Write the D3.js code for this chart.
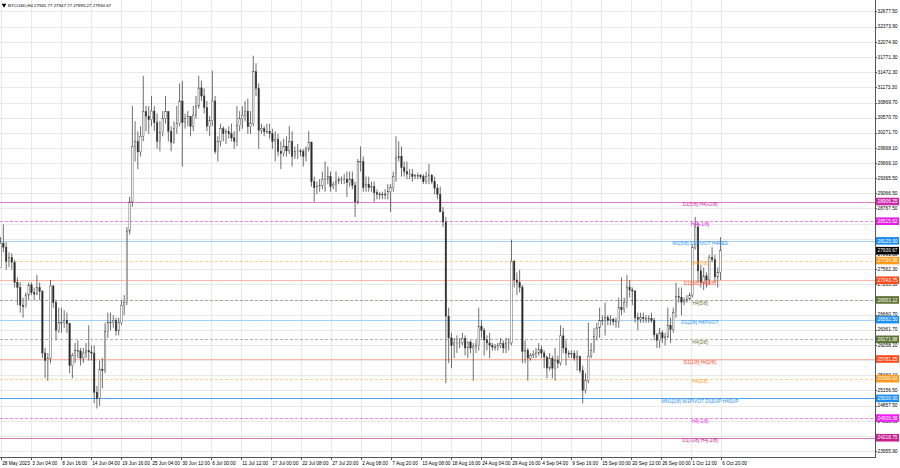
<!DOCTYPE html>
<html><head><meta charset="utf-8">
<script src="https://cdn.jsdelivr.net/npm/d3@7"></script>
<style>html,body{margin:0;padding:0;background:#fff;}svg{display:block;font-family:"Liberation Sans",Arial,sans-serif;}</style>
</head><body><svg id="c" width="900" height="468"></svg>
<script>
// ---------------- DATA ----------------
const headerText = "BTCUSD,H4  27941.77 27947.77 27893.27 27930.67";
const firstCandle = "2023-05-28T12:00:00";   // 12-hour candles from here
const candleHours = 12;
const firstOpen = 27600;
const highs = [28200,
28450,28100, 27900,27880, 27750,27400, 27300,27000, 27100,27300, 27300,27200, 27450,27300, 27150,26000, 25900,27350,
27250,26950, 26800,26800, 26750,26700, 26500,25900, 26100,26150, 26000,26000, 26100,26450, 26050,26050, 25250,25750,
25800,26500, 26700,26700, 26650,26600, 26600,26950, 27050,28400, 29000,30800, 30500,30300, 30400,31400, 30800,30800,
31000,30800, 30650,30500, 30700,31000, 30700,30400, 30500,30800, 31250,31300, 30650,30700, 30600,30800, 31000,31400,
31300,31150, 30900,30600, 31500,31000, 30200,30450, 30400,30350, 30400,30450, 30300,30800, 30700,30800, 30900,30950,
30700,31800, 31650,31250, 30450,30400, 30450,30450, 30350,30300, 30250,30100, 30150,30200, 30400,30300, 30000,30050,
29950,29950, 30000,30300, 30100,29400, 29300,29350, 29500,29700, 29600,29500, 29300,29500, 29400,29400, 29450,29500,
29500,29500, 29300,29750, 30000,29800, 29400,29400, 29300,29300, 29150,29100, 29100,29150, 29250,29250, 29500,30200,
30100,30000, 29700,29700, 29550,29550, 29450,29480, 29450,29450, 29500,29650, 29450,29400, 29250,29200, 28800,28600,
26800,26300, 26200,26250, 26200,26300, 26250,26100, 26150,26100, 26150,26800, 26550,26400, 26250,26300, 26100,26080,
26100,26200, 26150,26200, 26200,28150, 27750,27500, 27550,27250, 26150,26000, 25900,25950, 26000,26100, 26050,25950,
25850,25900, 25850,26000, 25850,26450, 26400,26150, 25950,25950, 25950,25950, 25850,25650, 25500,26500, 26100,26400,
26500,26800, 26650,26900, 26650,26650, 26600,26600, 27000,27400, 27000,27450, 27350,27200, 27150,26700, 26700,26700,
26650,26650, 26700,26600, 26300,26400, 26350,26300, 26800,26600, 26800,27300, 27200,27200, 27000,27050, 27100,28050,
28600,28500, 27650,27600, 27500,27850, 28000,27850, 27600,28200];
const lows = [27600,
27900,27550, 27600,27550, 27200,26850, 26700,26600, 26800,26950, 27050,26950, 27050,26950, 25800,25400, 25350,25700,
26800,26150, 26300,26300, 26400,26300, 25500,25400, 25700,25800, 25650,25700, 25800,25750, 25750,24900, 24800,24850,
25200,25500, 26200,26350, 26400,26250, 26250,26450, 26650,26850, 28250,28800, 29700,29550, 29800,30100, 30300,30250,
30400,30300, 29950,29900, 30200,30450, 30100,29900, 30050,30250, 30400,29600, 30350,30400, 30200,30300, 30550,30750,
30900,30650, 30300,30200, 30400,29850, 29700,30000, 30100,30050, 30150,30100, 29950,30000, 30300,30350, 30500,30250,
30250,30400, 31000,29950, 30250,30200, 30250,30150, 29950,29700, 29800,29550, 29800,29800, 29850,29600, 29750,29750,
29800,29600, 29700,29900, 29200,28900, 29050,29100, 29150,29100, 29250,29100, 29150,29100, 29250,29250, 29250,29000,
29200,29150, 28600,28850, 29500,29100, 29100,29100, 29100,28900, 28950,28950, 28950,28950, 28950,28700, 29100,29300,
29700,29400, 29400,29350, 29350,29300, 29350,29350, 29350,29250, 29250,29250, 29250,29050, 28950,28700, 28400,25300,
25700,25600, 25800,25900, 26000,26050, 25850,25800, 25900,25350, 25900,25950, 26200,25850, 25950,25800, 25950,25950,
25950,26000, 25900,25900, 25950,26050, 27200,27050, 27100,25700, 25700,25350, 25750,25800, 25800,25850, 25800,25600,
25400,25550, 25400,25350, 25600,25650, 25900,25650, 25800,25800, 25750,25550, 25500,24900, 25100,25300, 25800,25900,
26150,26200, 26450,26250, 26450,26450, 26450,26400, 26400,26650, 26700,26800, 27000,26850, 26500,26350, 26500,26500,
26500,26500, 26500,26150, 26000,26000, 26100,26050, 26200,26100, 26300,26600, 26900,26650, 26850,26900, 26950,27000,
27950,27300, 27200,27150, 27200,27250, 27700,27300, 27200,27350];
const closes = [28080,
28000,27720, 27800,27700, 27300,27200, 26850,26820, 27050,27250, 27100,27070, 27200,27120, 25900,25750, 25800,27230,
26900,26350, 26500,26500, 26550,26480, 25650,25850, 25950,25940, 25800,25900, 25950,25920, 25900,25120, 25000,25580,
25550,26330, 26500,26510, 26550,26340, 26500,26850, 26900,28320, 28900,30000, 30100,29890, 30200,30690, 30600,30530,
30700,30470, 30100,30270, 30550,30690, 30300,30080, 30350,30450, 30900,30470, 30550,30590, 30400,30620, 30800,31160,
31000,30770, 30400,30510, 30900,29900, 30100,30350, 30250,30290, 30250,30170, 30100,30410, 30550,30620, 30700,30390,
30450,31480, 31150,30320, 30350,30290, 30300,30250, 30100,30140, 29900,29860, 30000,29910, 30100,29800, 29900,29910,
29900,29800, 29950,30080, 29300,29180, 29200,29230, 29350,29350, 29400,29210, 29250,29310, 29350,29350, 29350,29280,
29350,29230, 28900,29700, 29700,29180, 29250,29180, 29200,29080, 29050,29040, 29050,29040, 29100,29180, 29400,29770,
29800,29580, 29500,29450, 29450,29400, 29420,29420, 29400,29300, 29400,29430, 29300,29170, 29050,28700, 28500,26630,
26200,26050, 26100,26100, 26100,26190, 26000,26120, 26000,26040, 26050,26430, 26350,26160, 26100,26050, 26020,26010,
26050,26090, 26000,26100, 26100,27720, 27350,27300, 27200,25930, 25950,25800, 25850,25870, 25900,25970, 25900,25820,
25600,25790, 25600,25750, 25700,26240, 26000,25900, 25880,25890, 25800,25830, 25550,25160, 25350,25840, 25950,26230,
26400,26540, 26550,26600, 26550,26570, 26520,26530, 26800,26760, 26900,27210, 27150,27130, 26600,26570, 26600,26580,
26580,26580, 26550,26260, 26150,26300, 26200,26220, 26450,26370, 26700,27020, 27000,26910, 26950,26970, 27050,27990,
28400,27530, 27300,27430, 27350,27800, 27750,27410, 27500,27931];

const timeLabels = ["28 May 2023","3 Jun 04:00","8 Jun 16:00","14 Jun 04:00","19 Jun 16:00","25 Jun 04:00","30 Jun 12:00",
"6 Jul 00:00","11 Jul 12:00","17 Jul 00:00","22 Jul 08:00","27 Jul 20:00","2 Aug 08:00","7 Aug 20:00","13 Aug 08:00",
"18 Aug 16:00","24 Aug 04:00","29 Aug 16:00","4 Sep 04:00","9 Sep 16:00","15 Sep 00:00","20 Sep 12:00","26 Sep 00:00",
"1 Oct 12:00","6 Oct 20:00"];
const timeLabelDates = ["2023-05-28T20:00","2023-06-03T04:00","2023-06-08T16:00","2023-06-14T04:00","2023-06-19T16:00",
"2023-06-25T04:00","2023-06-30T12:00","2023-07-06T00:00","2023-07-11T12:00","2023-07-17T00:00","2023-07-22T08:00",
"2023-07-27T20:00","2023-08-02T08:00","2023-08-07T20:00","2023-08-13T08:00","2023-08-18T16:00","2023-08-24T04:00",
"2023-08-29T16:00","2023-09-04T04:00","2023-09-09T16:00","2023-09-15T00:00","2023-09-20T12:00","2023-09-26T00:00",
"2023-10-01T12:00","2023-10-06T20:00"];

const priceTicks = [32677.50,32373.90,32074.90,31771.30,31472.30,31173.30,30869.70,30570.70,30271.70,29968.10,
29669.10,29365.50,29066.50,28767.50,28463.90,28164.90,27861.30,27562.30,27263.30,26959.70,26660.70,26361.70,
26058.10,25759.10,25460.10,25156.50,24857.50,24553.90,24254.90,23955.90];

const levelValues = [28906.25,28515.62,28125.00,27734.38,27343.75,26953.12,26562.50,26171.88,25781.25,25390.62,25000.00,24609.38,24218.75];
const levelLabels = ["D1[5/8] H4[+2/8]","H4[+1/8]","W1[5/8] D1PIVOT H4RES","H4[7/8]","D1[3/8] H4[6/8]","H4[5/8]",
"D1[2/8] H4PIVOT","H4[3/8]","D1[1/8] H4[2/8]","H4[1/8]","MN1[2/8] W1PIVOT D1SUP H4SUP","H4[-1/8]","D1[-1/8] H4[-2/8]"];
const currentPrice = 27930.67;

// ---------------- STYLE ----------------
const levelStyle = [
 {c:"#cc2aa8", dash:null, op:0.6},
 {c:"#e61ee6", dash:"3,2", op:0.55},
 {c:"#1e8ff0", dash:null, op:0.4},
 {c:"#ff9a1a", dash:"3,2", op:0.45},
 {c:"#ff4a1a", dash:null, op:0.4},
 {c:"#5e7434", dash:"3,2", op:0.5},
 {c:"#1e8ff0", dash:null, op:0.4},
 {c:"#5e7434", dash:"3,2", op:0.5},
 {c:"#ff4a1a", dash:null, op:0.4},
 {c:"#ff9a1a", dash:"3,2", op:0.45},
 {c:"#1e8ff0", dash:null, op:0.8},
 {c:"#f01ef0", dash:"3,2", op:0.55},
 {c:"#c8208e", dash:null, op:0.6}
];
const FONT = 4.8;
const plotR = 875, plotB = 457;

// ---------------- DRAW ----------------
const svg = d3.select("#c");
const y = d3.scaleLinear().domain([24218.75, 28906.25]).range([437.75, 201.5]);
const labelDates = timeLabelDates.map(d => new Date(d));
const x = d3.scaleTime().domain(labelDates).range(labelDates.map((d, i) => 1 + 30 * i));

const t0 = new Date(firstCandle).getTime();
const candles = closes.map((c, i) => {
  const open = i === 0 ? firstOpen : closes[i - 1];
  return {
    t: new Date(t0 + (i * candleHours + candleHours / 2) * 3600e3),
    o: open, h: Math.max(highs[i], open, c), l: Math.min(lows[i], open, c), c: c
  };
});

svg.append("defs").append("clipPath").attr("id", "plot")
  .append("rect").attr("x", 0).attr("y", 0).attr("width", plotR).attr("height", plotB);

// grid
const grid = svg.append("g").attr("stroke", "#e8e8e8").attr("stroke-width", 1).attr("shape-rendering", "crispEdges");
grid.selectAll("line.h").data(priceTicks).join("line").attr("class", "h")
  .attr("x1", 0).attr("x2", plotR).attr("y1", d => Math.round(y(d)) + 0.5).attr("y2", d => Math.round(y(d)) + 0.5);
grid.selectAll("line.v").data(labelDates).join("line").attr("class", "v")
  .attr("x1", d => Math.round(x(d)) + 0.5).attr("x2", d => Math.round(x(d)) + 0.5).attr("y1", 0).attr("y2", plotB);

const plot = svg.append("g").attr("clip-path", "url(#plot)");

// level lines
plot.selectAll("line.lvl").data(levelValues).join("line").attr("class", "lvl")
  .attr("x1", 0).attr("x2", plotR)
  .attr("y1", d => Math.round(y(d)) + 0.5).attr("y2", d => Math.round(y(d)) + 0.5)
  .attr("stroke", (d, i) => levelStyle[i].c).attr("stroke-opacity", (d, i) => levelStyle[i].op)
  .attr("stroke-dasharray", (d, i) => levelStyle[i].dash).attr("stroke-width", 1).attr("shape-rendering", "crispEdges");

// candles
const cg = plot.append("g");
cg.selectAll("line.w").data(candles).join("line").attr("class", "w")
  .attr("x1", d => x(d.t)).attr("x2", d => x(d.t))
  .attr("y1", d => y(d.h)).attr("y2", d => y(d.l))
  .attr("stroke", "#4a4a4a").attr("stroke-width", 0.8);
cg.selectAll("rect.b").data(candles).join("rect").attr("class", "b")
  .attr("x", d => x(d.t) - 0.75).attr("width", 1.5)
  .attr("y", d => y(Math.max(d.o, d.c))).attr("height", d => Math.max(0.6, Math.abs(y(d.o) - y(d.c))))
  .attr("fill", d => d.c >= d.o ? "#ffffff" : "#2a2a2a")
  .attr("stroke", "#3a3a3a").attr("stroke-width", 0.4);

// level labels
plot.selectAll("text.lvl").data(levelValues).join("text").attr("class", "lvl")
  .attr("x", 700).attr("y", d => y(d) + 4.6)
  .attr("text-anchor", "middle").attr("font-size", FONT)
  .attr("fill", (d, i) => levelStyle[i].c)
  .text((d, i) => levelLabels[i]);

// axes frame
svg.append("line").attr("x1", plotR + 0.5).attr("x2", plotR + 0.5).attr("y1", 0).attr("y2", plotB + 1)
  .attr("stroke", "#555").attr("shape-rendering", "crispEdges");
svg.append("line").attr("x1", 0).attr("x2", plotR + 1).attr("y1", plotB + 0.5).attr("y2", plotB + 0.5)
  .attr("stroke", "#555").attr("shape-rendering", "crispEdges");

// right axis labels
svg.selectAll("text.pt").data(priceTicks).join("text").attr("class", "pt")
  .attr("x", 877.5).attr("y", d => y(d) + 1.7).attr("font-size", FONT).attr("fill", "#000")
  .text(d => d.toFixed(2));
svg.selectAll("line.pt").data(priceTicks).join("line").attr("class", "pt")
  .attr("x1", plotR).attr("x2", plotR + 2).attr("y1", d => Math.round(y(d)) + 0.5).attr("y2", d => Math.round(y(d)) + 0.5)
  .attr("stroke", "#555").attr("shape-rendering", "crispEdges");

// time labels
svg.selectAll("text.tl").data(timeLabels).join("text").attr("class", "tl")
  .attr("x", (d, i) => x(labelDates[i]) + 1.2).attr("y", 465).attr("font-size", FONT).attr("fill", "#000")
  .text(d => d);
svg.selectAll("line.tl").data(labelDates).join("line").attr("class", "tl")
  .attr("x1", d => Math.round(x(d)) + 0.5).attr("x2", d => Math.round(x(d)) + 0.5)
  .attr("y1", plotB).attr("y2", plotB + 3).attr("stroke", "#555").attr("shape-rendering", "crispEdges");

// price boxes
const boxes = levelValues.map((v, i) => ({v, c: levelStyle[i].c}));
boxes.push({v: currentPrice, c: "#000"});
const bg = svg.append("g");
bg.selectAll("rect").data(boxes).join("rect")
  .attr("x", plotR + 1).attr("width", 23).attr("y", d => y(d.v) - 3.8).attr("height", 7.6)
  .attr("fill", d => d.c);
bg.selectAll("text").data(boxes).join("text")
  .attr("x", 877.5).attr("y", d => y(d.v) + 1.7).attr("font-size", FONT).attr("fill", "#fff")
  .text(d => d.v.toFixed(2));

// header
svg.append("path").attr("d", d3.symbol(d3.symbolTriangle, 9)()).attr("transform", "translate(4,5) rotate(180)").attr("fill", "#000");
svg.append("text").attr("x", 8).attr("y", 7).attr("font-size", 4.4).attr("fill", "#000").text(headerText);
</script></body></html>
